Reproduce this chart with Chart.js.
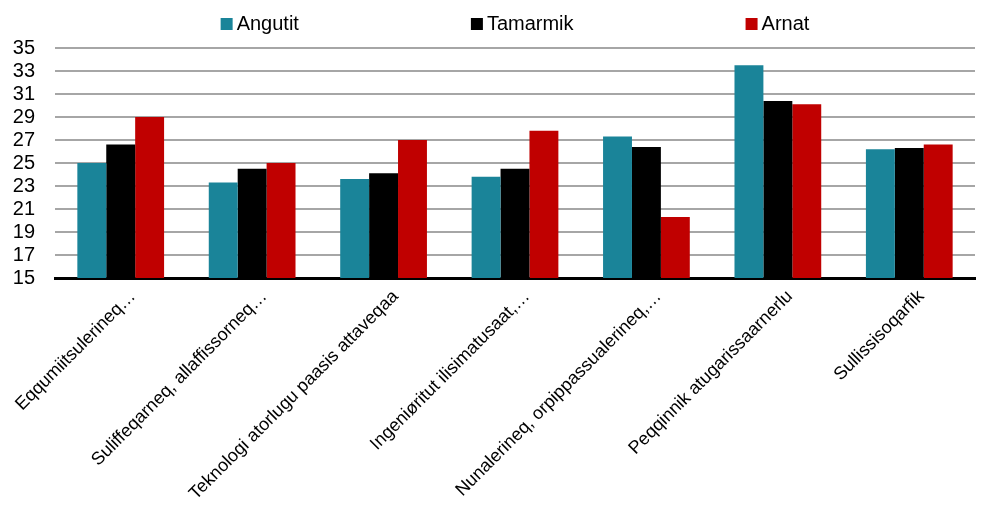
<!DOCTYPE html>
<html>
<head>
<meta charset="utf-8">
<script src="https://cdn.jsdelivr.net/npm/chart.js@4"></script>
<style>
  html, body { margin: 0; padding: 0; background: #fff; }
  #wrap { width: 984px; height: 508px; }
</style>
</head>
<body>
<div id="wrap"><canvas id="chart"></canvas></div>
<script>
// --- DATA ---
const categories = [
    'Eqqumiitsulerineq…',
    'Suliffeqarneq, allaffissorneq…',
    'Teknologi atorlugu paasis attaveqaa',
    'Ingeniøritut ilisimatusaat,…',
    'Nunalerineq, orpippassualerineq,…',
    'Peqqinnik atugarissaarnerlu',
    'Sullissisoqarfik'
];
const angutit  = [25.0, 23.3, 23.6, 23.8, 27.3, 33.5, 26.2];
const tamarmik = [26.6, 24.5, 24.1, 24.5, 26.4, 30.4, 26.3];
const arnat    = [29.0, 25.0, 27.0, 27.8, 20.3, 30.1, 26.6];
const yTicks   = [15, 17, 19, 21, 23, 25, 27, 29, 31, 33, 35];

const FAMILY = "'Liberation Sans', Roboto, sans-serif";
const STRETCH = 'condensed'; // goes into the canvas font string before the size

// legend drawn on the canvas, items spread wide like the original
const spreadLegend = {
    id: 'spreadLegend',
    afterDraw(chart, args, opts) {
        const ctx = chart.ctx;
        const area = chart.chartArea;
        const items = chart.data.datasets.map(d => ({ text: d.label, color: d.backgroundColor }));
        ctx.save();
        ctx.font = `normal ${STRETCH} ${opts.size}px ${FAMILY}`;
        ctx.textBaseline = 'middle';
        const widths = items.map(it => opts.box + opts.textGap + ctx.measureText(it.text).width);
        const total = widths.reduce((a, b) => a + b, 0) + opts.gap * (items.length - 1);
        let x = (area.left + area.right) / 2 - total / 2;
        items.forEach((it, i) => {
            ctx.fillStyle = it.color;
            ctx.fillRect(x, opts.y - opts.box / 2, opts.box, opts.box);
            ctx.fillStyle = '#000';
            ctx.fillText(it.text, x + opts.box + opts.textGap, opts.y);
            x += widths[i] + opts.gap;
        });
        ctx.restore();
    }
};

new Chart(document.getElementById('chart'), {
    type: 'bar',
    data: {
        labels: categories,
        datasets: [
            { label: 'Angutit',  data: angutit,  backgroundColor: '#1a8499' },
            { label: 'Tamarmik', data: tamarmik, backgroundColor: '#000000' },
            { label: 'Arnat',    data: arnat,    backgroundColor: '#c00000' }
        ]
    },
    plugins: [spreadLegend],
    options: {
        responsive: true,
        maintainAspectRatio: false,
        animation: false,
        layout: { padding: { left: 0, right: 9, top: 48, bottom: 0 } },
        datasets: { bar: { categoryPercentage: 0.66, barPercentage: 1.0 } },
        plugins: {
            tooltip: { enabled: false },
            legend: { display: false },
            spreadLegend: { y: 24, size: 20, box: 12, textGap: 4, gap: 172 }
        },
        scales: {
            x: {
                afterFit: axis => { axis.paddingLeft = 0; },
                grid: { display: false, drawTicks: false },
                border: { color: '#000', width: 3 },
                ticks: {
                    color: '#000',
                    font: { family: FAMILY, size: 18, weight: STRETCH },
                    minRotation: 45, maxRotation: 45,
                    autoSkip: false, padding: 8, labelOffset: 12
                }
            },
            y: {
                min: 15, max: 35,
                afterBuildTicks: axis => { axis.ticks = yTicks.map(v => ({ value: v })); },
                afterFit: axis => { axis.width = 55; },
                grid: { color: '#a6a6a6', lineWidth: 2, drawTicks: false },
                border: { display: false },
                ticks: {
                    color: '#000',
                    autoSkip: false,
                    font: { family: FAMILY, size: 20, weight: STRETCH },
                    padding: 20
                }
            }
        }
    }
});
</script>
</body>
</html>
